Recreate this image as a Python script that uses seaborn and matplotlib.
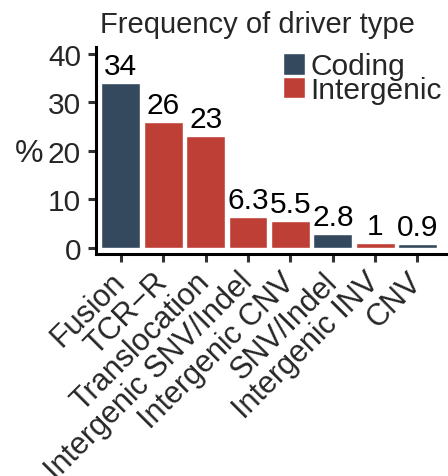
import matplotlib
matplotlib.use("Agg")
import matplotlib.pyplot as plt
import matplotlib.transforms as mtransforms
import seaborn as sns
import pandas as pd

categories = ["Fusion", "TCR\u2212R", "Translocation", "Intergenic SNV/Indel",
              "Intergenic CNV", "SNV/Indel", "Intergenic INV", "CNV"]
percent = [34, 26, 23, 6.3, 5.5, 2.8, 1, 0.9]
driver_class = ["Coding", "Intergenic", "Intergenic", "Intergenic",
                "Intergenic", "Coding", "Intergenic", "Coding"]
value_labels = ["34", "26", "23", "6.3", "5.5", "2.8", "1", "0.9"]
y_ticks = [0, 10, 20, 30, 40]

palette = {"Coding": "#34495e", "Intergenic": "#be3f36"}

df = pd.DataFrame({"type": categories, "pct": percent, "cls": driver_class})

sns.set_theme(style="white")
plt.rcParams["font.family"] = ["Liberation Sans", "DejaVu Sans"]

fig = plt.figure(figsize=(4.48, 4.77), dpi=100)
ax = fig.add_axes([0.215, 0.465, 0.785, 0.435])

sns.barplot(data=df, x="type", y="pct", hue="cls", palette=palette,
            order=categories, hue_order=["Coding", "Intergenic"],
            dodge=False, width=0.92, edgecolor="white", linewidth=1.0,
            saturation=1, ax=ax)

for i, (v, lab) in enumerate(zip(percent, value_labels)):
    ax.text(i, v + 0.6, lab, ha="center", va="bottom", fontsize=21.5,
            color="black")

ax.set_xlim(-0.58, 7.72)
ax.set_ylim(-1.3, 41.4)
ax.set_yticks(y_ticks)
ax.set_yticklabels([str(t) for t in y_ticks], fontsize=21.5)
ax.set_xticks(range(len(categories)))
ax.set_xticklabels(categories, rotation=45, ha="right", va="center",
                   rotation_mode="anchor", fontsize=22)
# nudge the slanted category labels a little to the right of their ticks
shift = mtransforms.ScaledTranslation(8 / 100, 0, fig.dpi_scale_trans)
for lab in ax.get_xticklabels():
    lab.set_transform(lab.get_transform() + shift)
ax.set_xlabel("")
ax.set_ylabel("%", rotation=0, fontsize=23, ha="center", va="center")
ax.yaxis.set_label_coords(-0.19, 0.49)
ax.set_title("Frequency of driver type", fontsize=21, x=0.457, pad=10.5)

for side in ["top", "right"]:
    ax.spines[side].set_visible(False)
for side in ["left", "bottom"]:
    ax.spines[side].set_linewidth(2.2)
    ax.spines[side].set_color("black")
ax.tick_params(axis="both", length=6, width=2.2, color="#333333",
               bottom=True, left=True)
ax.tick_params(axis="y", pad=5)
ax.tick_params(axis="x", pad=10.4)

handles, labels = ax.get_legend_handles_labels()
ax.legend(handles, labels, loc="upper left", bbox_to_anchor=(0.497, 1.03),
          frameon=False, fontsize=21.5, handlelength=0.72, handleheight=0.72,
          handletextpad=0.2, labelspacing=-0.15, borderaxespad=0)

fig.savefig("out.png", dpi=100)
